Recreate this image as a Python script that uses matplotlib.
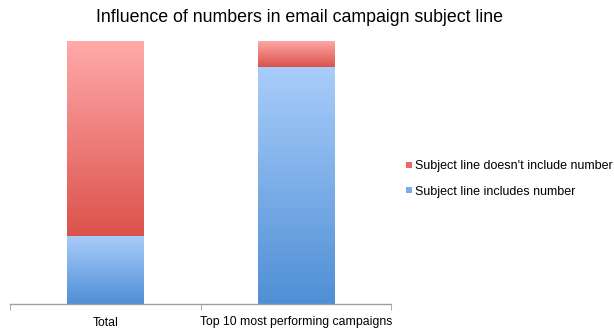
import numpy as np
import matplotlib
matplotlib.use("Agg")
import matplotlib.pyplot as plt
from matplotlib.colors import LinearSegmentedColormap
from matplotlib.patches import Patch

plt.rcParams['font.family'] = ['Liberation Sans', 'DejaVu Sans']

categories = ["Total", "Top 10 most performing campaigns"]
includes_number = [26, 90]        # % of campaigns whose subject line includes a number
no_number = [74, 10]              # % whose subject line doesn't include a number
series_labels = ["Subject line doesn't include number", "Subject line includes number"]
title = "Influence of numbers in email campaign subject line"

blue_cmap = LinearSegmentedColormap.from_list("blue", ["#4f8fd5", "#a9cdfb"])
red_cmap = LinearSegmentedColormap.from_list("red", ["#dc524b", "#ffaaaa"])

fig = plt.figure(figsize=(6.14, 3.36), dpi=100)
ax = fig.add_axes([10 / 614, 32 / 336, 381 / 614, 263 / 336])

x = np.arange(len(categories))
width = 0.4
grad = np.linspace(0, 1, 256).reshape(-1, 1)


def gradient_bar(xc, bottom, height, cmap):
    bars = ax.bar(xc, height, width, bottom=bottom, color="none", edgecolor="none")
    for b in bars:
        x0 = b.get_x()
        y0 = b.get_y()
        ax.imshow(grad, cmap=cmap, origin="lower", aspect="auto",
                  extent=[x0, x0 + b.get_width(), y0, y0 + b.get_height()],
                  interpolation="bicubic", zorder=2)


gradient_bar(x, [0] * len(x), includes_number, blue_cmap)
gradient_bar(x, includes_number, no_number, red_cmap)

ax.set_xlim(-0.5, len(categories) - 0.5)
ax.set_ylim(0, 100)
for s in ["top", "right", "left"]:
    ax.spines[s].set_visible(False)
ax.spines["bottom"].set_color("#a0a0a0")
ax.spines["bottom"].set_linewidth(1.0)
ax.set_yticks([])
ax.set_xticks(x)
ax.set_xticklabels(categories, fontsize=8.8)
ax.tick_params(axis="x", length=0, pad=9)
ax.set_xticks([-0.5, 0.5, 1.5], minor=True)
ax.tick_params(axis="x", which="minor", length=4, color="#a0a0a0", direction="out")

fig.text(300 / 614, 1 - 18 / 336, title, ha="center", va="center", fontsize=12.8)

handles = [Patch(facecolor="#e86a66", edgecolor="none"),
           Patch(facecolor="#7aaee8", edgecolor="none")]
fig.legend(handles, series_labels, loc="center left",
           bbox_to_anchor=(400 / 614, 1 - 179 / 336), frameon=False,
           fontsize=9, handlelength=0.45, handleheight=0.45,
           handletextpad=0.25, labelspacing=1.05, borderpad=0)

fig.savefig("out.png", dpi=100)
